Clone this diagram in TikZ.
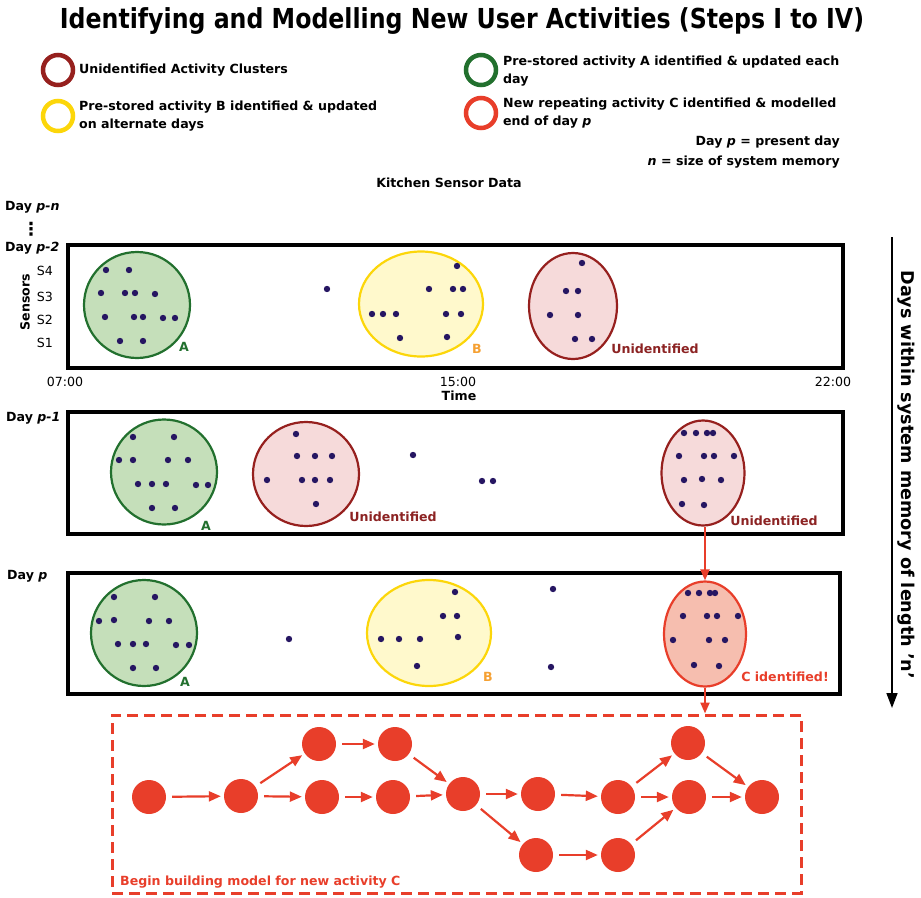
\documentclass[tikz,border=0pt]{standalone}
\usepackage{fontspec}
\setmainfont{DejaVu Sans}
\newfontfamily\titlefont{DejaVu Sans}[FakeStretch=0.86]
\usetikzlibrary{shapes.geometric,arrows.meta}

\definecolor{actgreen}{RGB}{34,112,46}
\definecolor{actgreenfill}{RGB}{197,223,186}
\definecolor{actyellow}{RGB}{252,214,10}
\definecolor{actyellowfill}{RGB}{255,249,204}
\definecolor{actbrown}{RGB}{150,32,30}
\definecolor{actbrownfill}{RGB}{246,218,218}
\definecolor{actred}{RGB}{232,62,42}
\definecolor{actredfill}{RGB}{246,190,175}
\definecolor{dotblue}{RGB}{38,22,98}
\definecolor{unidtext}{RGB}{140,35,35}
\definecolor{borange}{RGB}{245,160,50}

\tikzset{
  bold/.style={font=\bfseries\fontsize{12.6}{18}\selectfont},
  plain/.style={font=\fontsize{12.6}{15}\selectfont},
  legring/.style={circle, line width=4.5pt, minimum size=30, inner sep=0pt},
  legtext/.style={bold, anchor=west, align=left, inner sep=0pt},
  daybox/.style={draw, line width=4pt},
  cluster/.style={ellipse, line width=2.2pt, inner sep=0pt},
  state/.style={circle, fill=actred, minimum size=34, inner sep=0pt},
  trans/.style={actred, line width=2.2pt, -{Triangle[length=12pt,width=10pt]}, shorten <=6pt, shorten >=3pt}
}

\begin{document}
\begin{tikzpicture}[x=1pt,y=-1pt]
\useasboundingbox (0,0) rectangle (921,897);
% titre
\node[font=\titlefont\bfseries\fontsize{27.5}{30}\selectfont] (title) at (462,21) {Identifying and Modelling New User Activities (Steps I to IV)};
% legende
\node[legring, draw=actbrown] (legU) at (58,70) {};
\node[legtext] (legUt) at (79,70) {Unidentified Activity Clusters};
\node[legring, draw=actyellow] (legB) at (58,116) {};
\node[legtext] (legBt) at (79,116) {Pre-stored activity B identified \& updated\\on alternate days};
\node[legring, draw=actgreen] (legA) at (481,70) {};
\node[legtext] (legAt) at (503,71) {Pre-stored activity A identified \& updated each\\day};
\node[legring, draw=actred] (legC) at (481,113) {};
\node[legtext] (legCt) at (503,113) {New repeating activity C identified \& modelled\\end of day \textit{p}};
\node[bold, anchor=east, inner sep=0pt] (present) at (840,142) {Day \textit{p} = present day};
\node[bold, anchor=east, inner sep=0pt] (memsize) at (840,162) {\textit{n} = size of system memory};
\node[bold] (kitchen) at (449,183) {Kitchen Sensor Data};
% jours
\node[bold, anchor=west, inner sep=0pt] (dayn) at (5,207) {Day \textit{p-n}};
\node[font=\bfseries\fontsize{18}{20}\selectfont] (vdots) at (31,229) {\char"22EE};
\node[bold, anchor=west, inner sep=0pt] (day2) at (5,248) {Day \textit{p-2}};
\node[bold, anchor=west, inner sep=0pt] (day1) at (6,418) {Day \textit{p-1}};
\node[bold, anchor=west, inner sep=0pt] (day0) at (7,576) {Day \textit{p}};
\draw[daybox] (68,245) rectangle (843,368);
\draw[daybox] (68,412) rectangle (843,534);
\draw[daybox] (68,573) rectangle (840,694);
% axes jour p-2
\node[bold, rotate=90] (sensors) at (25,302) {Sensors};
\node[plain] (s4) at (45,271) {S4};
\node[plain] (s3) at (45,297) {S3};
\node[plain] (s2) at (45,320) {S2};
\node[plain] (s1) at (45,343) {S1};
\node[plain] (t07) at (65,382) {07:00};
\node[plain] (t15) at (458,382) {15:00};
\node[plain] (t22) at (833,382) {22:00};
\node[bold] (time) at (459,396) {Time};
% groupes jour p-2
\node[cluster, draw=actgreen, fill=actgreenfill, minimum width=106, minimum height=106] (a2) at (137,305) {};
\node[cluster, draw=actyellow, fill=actyellowfill, minimum width=124, minimum height=105] (b2) at (421,304) {};
\node[cluster, draw=actbrown, fill=actbrownfill, minimum width=88, minimum height=106] (u2) at (573,306) {};
\node[bold, text=actgreen] (a2lab) at (184,347) {A};
\node[bold, text=borange] (b2lab) at (477,349) {B};
\node[bold, text=unidtext] (u2lab) at (655,349) {Unidentified};
\foreach \x/\y in {106/270,129/270,101/293,125/293,135/293,155/294,105/317,134/317,143/317,163/318,175/318,120/341,143/341,
  327/289,
  457/266,429/289,453/289,463/289,372/314,383/314,396/314,446/314,461/314,400/338,447/337,
  582/263,566/291,578/291,550/315,578/315,575/339,592/339}
  \fill[dotblue] (\x,\y) circle (3.2);
% groupes jour p-1
\node[cluster, draw=actgreen, fill=actgreenfill, minimum width=106, minimum height=105] (a1) at (164,472) {};
\node[cluster, draw=actbrown, fill=actbrownfill, minimum width=106, minimum height=104] (u1a) at (306,474) {};
\node[cluster, draw=actbrown, fill=actbrownfill, minimum width=83, minimum height=105] (u1b) at (703,473) {};
\node[bold, text=actgreen] (a1lab) at (206,526) {A};
\node[bold, text=unidtext] (u1alab) at (393,517) {Unidentified};
\node[bold, text=unidtext] (u1blab) at (774,521) {Unidentified};
\foreach \x/\y in {133/437,174/437,119/460,133/460,168/460,188/460,138/484,152/484,166/484,196/485,208/485,152/508,175/508,
  296/434,297/456,315/456,332/456,267/480,302/480,315/480,330/480,316/504,
  413/455,482/481,493/481,
  684/433,696/433,707/433,713/433,679/456,704/456,714/456,734/456,684/480,702/479,721/480,682/504,704/505}
  \fill[dotblue] (\x,\y) circle (3.2);
% groupes jour p
\node[cluster, draw=actgreen, fill=actgreenfill, minimum width=106, minimum height=106] (a0) at (144,633) {};
\node[cluster, draw=actyellow, fill=actyellowfill, minimum width=124, minimum height=106] (b0) at (429,633) {};
\node[cluster, draw=actred, fill=actredfill, minimum width=82, minimum height=105] (c0) at (705,634) {};
\node[bold, text=actgreen] (a0lab) at (185,682) {A};
\node[bold, text=borange] (b0lab) at (488,677) {B};
\node[bold, text=actred] (c0lab) at (785,677) {C identified!};
\foreach \x/\y in {114/597,155/597,99/621,114/620,149/621,169/621,118/644,133/644,146/644,176/645,189/645,133/668,156/668,
  289/639,553/589,551/667,
  455/592,443/616,457/616,458/637,381/639,399/639,420/639,417/666,
  688/593,699/593,710/593,715/593,683/616,707/616,717/616,738/616,673/640,709/640,725/640,694/665,719/666}
  \fill[dotblue] (\x,\y) circle (3.2);
% memoire
\coordinate (memtop) at (892,237);
\coordinate (membot) at (892,708);
\draw[line width=1.6pt, -{Triangle[length=15pt,width=11pt]}] (memtop) -- (membot);
\node[font=\bfseries\fontsize{17.6}{20}\selectfont, rotate=-90] (memlab) at (906,475) {Days within system memory of length 'n'};
% modele
\node[draw=actred, line width=3pt, dash pattern=on 11pt off 6pt, minimum width=689, minimum height=178, inner sep=0pt] (model) at (456.5,804) {};
\node[bold, text=actred, anchor=west, inner sep=0pt] (modlab) at (120,882) {Begin building model for new activity C};
\draw[actred, line width=2.2pt, -{Triangle[length=11pt,width=9pt]}] (c0.north |- u1b.south) -- (c0.north);
\draw[actred, line width=2.2pt, -{Triangle[length=11pt,width=9pt]}] (c0.south) -- (c0.south |- model.north);
\node[state] (m1) at (149,797) {};
\node[state] (m2) at (241,796) {};
\node[state] (m3) at (319,744) {};
\node[state] (m4) at (395,744) {};
\node[state] (m5) at (322,797) {};
\node[state] (m6) at (393,797) {};
\node[state] (m7) at (463,794) {};
\node[state] (m8) at (538,794) {};
\node[state] (m9) at (618,797) {};
\node[state] (m10) at (536,855) {};
\node[state] (m11) at (618,855) {};
\node[state] (m12) at (688,743) {};
\node[state] (m13) at (689,797) {};
\node[state] (m14) at (762,797) {};
\foreach \a/\b in {m1/m2,m2/m3,m2/m5,m3/m4,m4/m7,m5/m6,m6/m7,m7/m8,m7/m10,m8/m9,m9/m12,m9/m13,m10/m11,m11/m13,m12/m14,m13/m14}
  \draw[trans] (\a) -- (\b);
\end{tikzpicture}
\end{document}
